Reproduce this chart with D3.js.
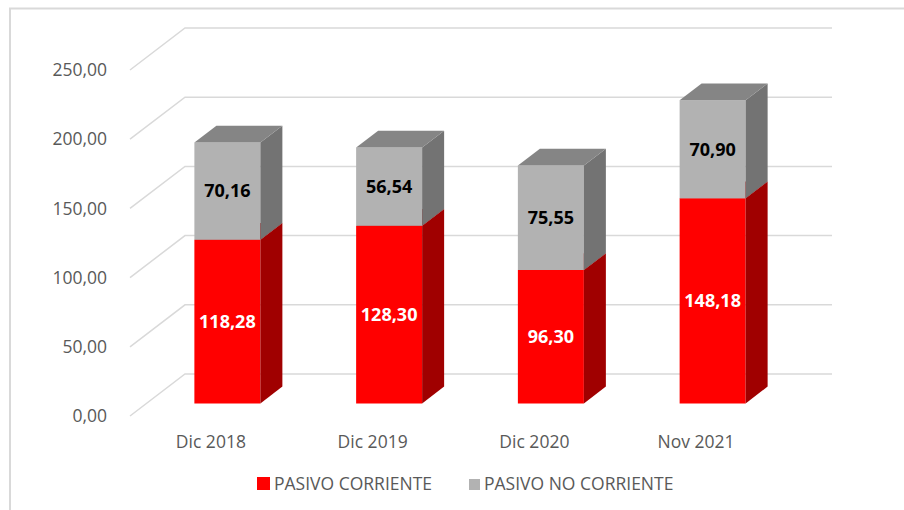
<!DOCTYPE html>
<html>
<head>
<meta charset="utf-8">
<script src="https://cdn.jsdelivr.net/npm/d3@7"></script>
<style>
  body { margin: 0; background: #fff; }
  text { font-family: "Open Sans", "Liberation Sans", sans-serif; }
</style>
</head>
<body>
<div id="chart"></div>
<script>
// data
const categories = ['Dic 2018', 'Dic 2019', 'Dic 2020', 'Nov 2021'];
const corriente = [118.28, 128.30, 96.30, 148.18];
const noCorriente = [70.16, 56.54, 75.55, 70.90];
const yTicks = [0, 50, 100, 150, 200, 250];
const seriesNames = ['PASIVO CORRIENTE', 'PASIVO NO CORRIENTE'];

const W = 904, H = 510;
const fmt = v => d3.format('.2f')(v).replace('.', ',');

// depth of the 3d box (in px) and where the bars sit inside it
const DX = 55, DY = -42;
const d0 = 0.3, d1 = 0.7;

const svg = d3.select('#chart').append('svg')
  .attr('width', W).attr('height', H);

// chart border (only top and left show)
svg.append('path')
  .attr('d', `M10,${H} L10,8.5 L${W},8.5`)
  .attr('fill', 'none').attr('stroke', '#d9d9d9').attr('stroke-width', 2);

const x = d3.scaleBand().domain(categories).range([130, 777]).paddingInner(0).paddingOuter(0);
const y = d3.scaleLinear().domain([0, 250]).range([416, 70]);

// gridlines: side wall diagonal + back wall line
const grid = svg.append('g');
yTicks.forEach(t => {
  grid.append('path')
    .attr('d', `M130,${y(t)} L${130 + DX},${y(t) + DY} L${777 + DX},${y(t) + DY}`)
    .attr('fill', 'none').attr('stroke', '#d9d9d9').attr('stroke-width', 1.5);
  grid.append('text')
    .attr('x', 107).attr('y', y(t)).attr('dy', '0.35em')
    .attr('text-anchor', 'end').attr('fill', '#595959')
    .attr('font-size', 17.5).text(fmt(t));
});

// category labels
svg.append('g').selectAll('text').data(categories).join('text')
  .attr('x', d => x(d) + x.bandwidth() / 2)
  .attr('y', 448)
  .attr('text-anchor', 'middle').attr('fill', '#595959')
  .attr('font-size', 17.5).text(d => d);

const barW = 66;
const pt = (px, py, d) => [px + DX * d, py + DY * d];
const poly = ps => 'M' + ps.map(p => p.join(',')).join('L') + 'Z';

function box(g, cat, lo, hi, cols) {
  const xl = x(cat) + x.bandwidth() / 2 - barW / 2;
  const xr = xl + barW;
  const yb = y(lo), yt = y(hi);
  // front face
  g.append('path').attr('d', poly([pt(xl, yb, d0), pt(xr, yb, d0), pt(xr, yt, d0), pt(xl, yt, d0)]))
    .attr('fill', cols[0]);
  // side face
  g.append('path').attr('d', poly([pt(xr, yb, d0), pt(xr, yb, d1), pt(xr, yt, d1), pt(xr, yt, d0)]))
    .attr('fill', cols[1]);
  // top face
  g.append('path').attr('d', poly([pt(xl, yt, d0), pt(xr, yt, d0), pt(xr, yt, d1), pt(xl, yt, d1)]))
    .attr('fill', cols[2]);
  return [xl + barW / 2 + DX * d0, (yb + yt) / 2 + DY * d0];
}

const bars = svg.append('g');
categories.forEach((c, i) => {
  const a = corriente[i], b = noCorriente[i];
  const p1 = box(bars, c, 0, a, ['#ff0000', '#a00000', '#c00000']);
  const p2 = box(bars, c, a, a + b, ['#b2b2b2', '#737373', '#858585']);
  bars.append('text').attr('x', p1[0]).attr('y', p1[1]).attr('dy', '0.35em')
    .attr('text-anchor', 'middle').attr('font-size', 18).attr('font-weight', 'bold')
    .attr('fill', '#fff').text(fmt(a));
  bars.append('text').attr('x', p2[0]).attr('y', p2[1]).attr('dy', '0.35em')
    .attr('text-anchor', 'middle').attr('font-size', 18).attr('font-weight', 'bold')
    .attr('fill', '#000').text(fmt(b));
});

// legend
const legend = svg.append('g');
const legItems = [
  { name: seriesNames[0], color: '#ff0000', x: 257, size: 13 },
  { name: seriesNames[1], color: '#b2b2b2', x: 469, size: 11 }
];
legItems.forEach(l => {
  legend.append('rect').attr('x', l.x).attr('y', 490 - l.size).attr('width', l.size).attr('height', l.size)
    .attr('fill', l.color);
  legend.append('text').attr('x', l.x + l.size + 4).attr('y', 490)
    .attr('font-size', 17.5).attr('fill', '#595959').text(l.name);
});
</script>
</body>
</html>
